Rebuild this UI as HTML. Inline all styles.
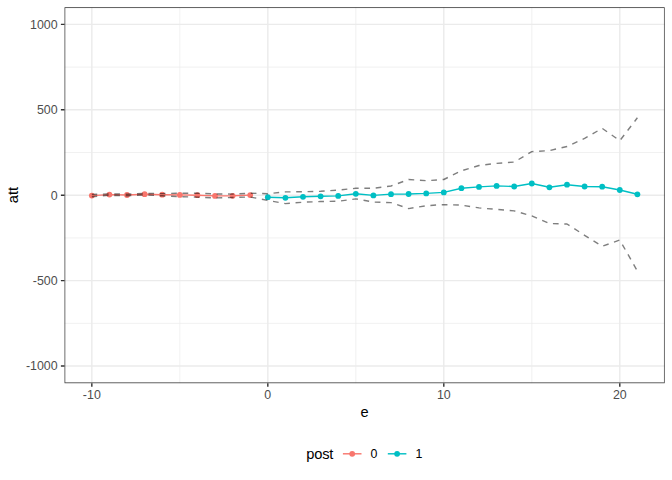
<!DOCTYPE html><html><head><meta charset="utf-8"><style>html,body{margin:0;padding:0;background:#fff;}svg{display:block;}text{font-family:"Liberation Sans",sans-serif;}</style></head><body>
<svg width="672" height="480" viewBox="0 0 672 480">
<rect x="0" y="0" width="672" height="480" fill="#fff"/>
<defs><clipPath id="cp"><rect x="64.55" y="7.33" width="600.12" height="375.82"/></clipPath></defs>
<path d="M64.55 323.36H664.67M64.55 237.95H664.67M64.55 152.53H664.67M64.55 67.12H664.67M179.82 7.33V383.15M355.81 7.33V383.15M531.80 7.33V383.15" stroke="#EBEBEB" stroke-width="0.71" fill="none"/>
<path d="M64.55 366.07H664.67M64.55 280.65H664.67M64.55 195.24H664.67M64.55 109.83H664.67M64.55 24.41H664.67M91.83 7.33V383.15M267.82 7.33V383.15M443.80 7.33V383.15M619.79 7.33V383.15" stroke="#EBEBEB" stroke-width="1.42" fill="none"/>
<g clip-path="url(#cp)">
<path d="M91.83 195.60 L109.43 194.60 L127.03 195.00 L144.62 194.20 L162.22 194.70 L179.82 194.90 L197.42 195.20 L215.02 195.90 L232.62 195.80 L250.22 195.10" stroke="#F8766D" stroke-width="1.42" fill="none" stroke-linejoin="round" stroke-linecap="butt"/>
<path d="M267.82 197.20 L285.42 197.80 L303.01 196.80 L320.61 196.30 L338.21 195.90 L355.81 193.80 L373.41 195.40 L391.01 194.15 L408.61 194.00 L426.21 193.40 L443.80 192.40 L461.40 188.20 L479.00 186.90 L496.60 185.90 L514.20 186.50 L531.80 183.50 L549.40 187.30 L567.00 184.70 L584.60 186.50 L602.19 186.70 L619.79 190.00 L637.39 194.30" stroke="#00BFC4" stroke-width="1.42" fill="none" stroke-linejoin="round" stroke-linecap="butt"/>
<circle cx="91.83" cy="195.60" r="2.90" fill="#F8766D"/>
<circle cx="109.43" cy="194.60" r="2.90" fill="#F8766D"/>
<circle cx="127.03" cy="195.00" r="2.90" fill="#F8766D"/>
<circle cx="144.62" cy="194.20" r="2.90" fill="#F8766D"/>
<circle cx="162.22" cy="194.70" r="2.90" fill="#F8766D"/>
<circle cx="179.82" cy="194.90" r="2.90" fill="#F8766D"/>
<circle cx="197.42" cy="195.20" r="2.90" fill="#F8766D"/>
<circle cx="215.02" cy="195.90" r="2.90" fill="#F8766D"/>
<circle cx="232.62" cy="195.80" r="2.90" fill="#F8766D"/>
<circle cx="250.22" cy="195.10" r="2.90" fill="#F8766D"/>
<circle cx="267.82" cy="197.20" r="2.90" fill="#00BFC4"/>
<circle cx="285.42" cy="197.80" r="2.90" fill="#00BFC4"/>
<circle cx="303.01" cy="196.80" r="2.90" fill="#00BFC4"/>
<circle cx="320.61" cy="196.30" r="2.90" fill="#00BFC4"/>
<circle cx="338.21" cy="195.90" r="2.90" fill="#00BFC4"/>
<circle cx="355.81" cy="193.80" r="2.90" fill="#00BFC4"/>
<circle cx="373.41" cy="195.40" r="2.90" fill="#00BFC4"/>
<circle cx="391.01" cy="194.15" r="2.90" fill="#00BFC4"/>
<circle cx="408.61" cy="194.00" r="2.90" fill="#00BFC4"/>
<circle cx="426.21" cy="193.40" r="2.90" fill="#00BFC4"/>
<circle cx="443.80" cy="192.40" r="2.90" fill="#00BFC4"/>
<circle cx="461.40" cy="188.20" r="2.90" fill="#00BFC4"/>
<circle cx="479.00" cy="186.90" r="2.90" fill="#00BFC4"/>
<circle cx="496.60" cy="185.90" r="2.90" fill="#00BFC4"/>
<circle cx="514.20" cy="186.50" r="2.90" fill="#00BFC4"/>
<circle cx="531.80" cy="183.50" r="2.90" fill="#00BFC4"/>
<circle cx="549.40" cy="187.30" r="2.90" fill="#00BFC4"/>
<circle cx="567.00" cy="184.70" r="2.90" fill="#00BFC4"/>
<circle cx="584.60" cy="186.50" r="2.90" fill="#00BFC4"/>
<circle cx="602.19" cy="186.70" r="2.90" fill="#00BFC4"/>
<circle cx="619.79" cy="190.00" r="2.90" fill="#00BFC4"/>
<circle cx="637.39" cy="194.30" r="2.90" fill="#00BFC4"/>
<path d="M91.83 194.50 L109.43 193.90 L127.03 194.20 L144.62 193.50 L162.22 193.60 L179.82 193.20 L197.42 193.30 L215.02 193.90 L232.62 194.10 L250.22 193.20 L267.82 193.70 L285.42 191.90 L303.01 191.70 L320.61 191.30 L338.21 190.10 L355.81 188.30 L373.41 188.30 L391.01 186.00 L408.61 179.50 L426.21 180.70 L443.80 179.50 L461.40 170.80 L479.00 165.50 L496.60 163.40 L514.20 162.10 L531.80 151.60 L549.40 150.60 L567.00 146.50 L584.60 138.40 L602.19 128.30 L619.79 140.70 L637.39 117.80" stroke="#000" stroke-opacity="0.5" stroke-width="1.42" fill="none" stroke-dasharray="5.69 5.69" stroke-dashoffset="0.3" stroke-linejoin="round"/>
<path d="M91.83 196.70 L109.43 195.30 L127.03 195.80 L144.62 194.90 L162.22 195.80 L179.82 196.60 L197.42 197.10 L215.02 197.90 L232.62 197.50 L250.22 197.00 L267.82 200.40 L285.42 203.60 L303.01 202.20 L320.61 201.55 L338.21 201.20 L355.81 198.90 L373.41 202.10 L391.01 202.60 L408.61 208.60 L426.21 205.70 L443.80 204.60 L461.40 205.10 L479.00 207.90 L496.60 209.40 L514.20 210.90 L531.80 215.90 L549.40 223.50 L567.00 224.00 L584.60 235.30 L602.19 246.30 L619.79 240.00 L637.39 271.00" stroke="#000" stroke-opacity="0.5" stroke-width="1.42" fill="none" stroke-dasharray="5.69 5.69" stroke-dashoffset="0.3" stroke-linejoin="round"/>
</g>
<rect x="64.55" y="7.33" width="600.12" height="375.82" fill="none" stroke="#333333" stroke-width="1.42" clip-path="url(#cp)"/>
<path d="M60.88 366.07H64.55M60.88 280.65H64.55M60.88 195.24H64.55M60.88 109.83H64.55M60.88 24.41H64.55M91.83 383.15V386.82M267.82 383.15V386.82M443.80 383.15V386.82M619.79 383.15V386.82" stroke="#333333" stroke-width="1.42" fill="none"/>
<text x="57.65" y="370.47" font-size="12.4" fill="#4D4D4D" text-anchor="end">-1000</text>
<text x="57.65" y="285.05" font-size="12.4" fill="#4D4D4D" text-anchor="end">-500</text>
<text x="57.65" y="199.64" font-size="12.4" fill="#4D4D4D" text-anchor="end">0</text>
<text x="57.65" y="114.23" font-size="12.4" fill="#4D4D4D" text-anchor="end">500</text>
<text x="57.65" y="28.81" font-size="12.4" fill="#4D4D4D" text-anchor="end">1000</text>
<text x="91.83" y="398.90" font-size="12.4" fill="#4D4D4D" text-anchor="middle">-10</text>
<text x="267.82" y="398.90" font-size="12.4" fill="#4D4D4D" text-anchor="middle">0</text>
<text x="443.80" y="398.90" font-size="12.4" fill="#4D4D4D" text-anchor="middle">10</text>
<text x="619.79" y="398.90" font-size="12.4" fill="#4D4D4D" text-anchor="middle">20</text>
<text x="364.61" y="416.6" font-size="14.67" fill="#000" text-anchor="middle">e</text>
<text transform="translate(18.4,195.1) rotate(-90)" font-size="14.67" fill="#000" text-anchor="middle">att</text>
<text x="306.3" y="459.3" font-size="14.67" letter-spacing="-0.2" fill="#000">post</text>
<path d="M342.90 453.8H361.50" stroke="#F8766D" stroke-width="1.42"/>
<circle cx="352.20" cy="453.8" r="2.90" fill="#F8766D"/>
<text x="370.50" y="458.30" font-size="12.4" fill="#000">0</text>
<path d="M387.80 453.8H406.40" stroke="#00BFC4" stroke-width="1.42"/>
<circle cx="397.10" cy="453.8" r="2.90" fill="#00BFC4"/>
<text x="415.40" y="458.30" font-size="12.4" fill="#000">1</text>
</svg></body></html>
